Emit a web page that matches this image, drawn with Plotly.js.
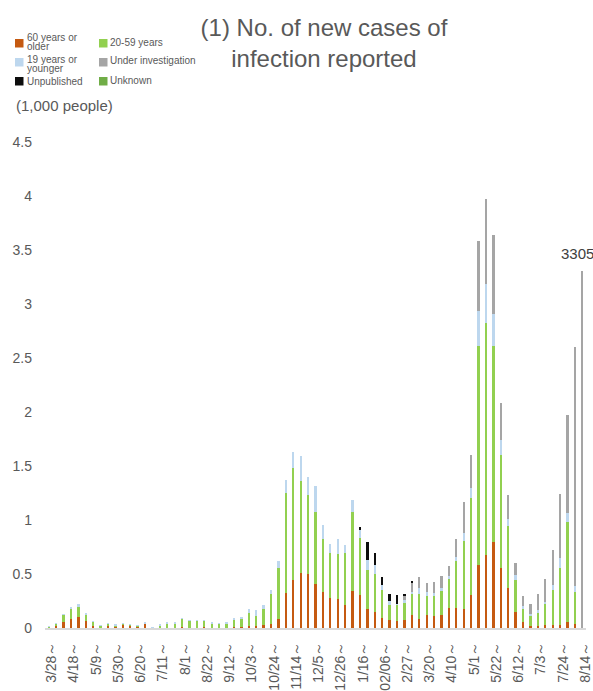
<!DOCTYPE html>
<html><head><meta charset="utf-8">
<script src="https://cdn.plot.ly/plotly-3.0.1.min.js"></script>
<style>html,body{margin:0;padding:0;background:#fff;overflow:hidden;} #chart{width:593px;height:691px;}</style>
</head><body><div id="chart"></div>
<script>
// Week starting dates (2020-03-28 .. 2021-08-14)
const weeks = ["3/28","4/4","4/11","4/18","4/25","5/2","5/9","5/16","5/23","5/30","6/6","6/13","6/20","6/27","7/4","7/11","7/18","7/25","8/1","8/8","8/15","8/22","8/29","9/5","9/12","9/19","9/26","10/3","10/10","10/17","10/24","10/31","11/7","11/14","11/21","11/28","12/5","12/12","12/19","12/26","1/2","1/9","1/16","1/23","1/30","02/06","2/13","2/20","2/27","3/6","3/13","3/20","3/27","4/3","4/10","4/17","4/24","5/1","5/8","5/15","5/22","5/29","6/5","6/12","6/19","6/26","7/3","7/10","7/17","7/24","7/31","8/7","8/14"];
const tickWeeks = ["3/28","4/18","5/9","5/30","6/20","7/11","8/1","8/22","9/12","10/3","10/24","11/14","12/5","12/26","1/16","02/06","2/27","3/20","4/10","5/1","5/22","6/12","7/3","7/24","8/14"];

// Values in 1,000 people
const age60plus = [0.002,0.015,0.056,0.082,0.101,0.068,0.022,0.006,0.014,0.013,0.028,0.025,0.016,0.038,0.001,0.002,0.002,0.003,0.006,0.004,0.003,0.006,0.003,0.003,0.004,0.012,0.009,0.015,0.015,0.028,0.037,0.086,0.325,0.445,0.508,0.502,0.408,0.333,0.278,0.267,0.214,0.343,0.302,0.177,0.146,0.094,0.071,0.064,0.073,0.120,0.086,0.117,0.111,0.120,0.182,0.183,0.176,0.302,0.580,0.673,0.796,0.559,0.372,0.148,0.056,0.015,0.015,0.025,0.025,0.025,0.056,0.040,0];
const age20to59 = [0.010,0.028,0.066,0.100,0.100,0.060,0.037,0.018,0.024,0.014,0.012,0.005,0.008,0.008,0.004,0.025,0.042,0.043,0.082,0.064,0.064,0.063,0.042,0.038,0.040,0.064,0.078,0.127,0.100,0.150,0.275,0.466,0.926,1.037,0.855,0.728,0.664,0.494,0.417,0.420,0.478,0.728,0.531,0.361,0.358,0.259,0.145,0.151,0.160,0.194,0.225,0.179,0.185,0.219,0.275,0.438,0.629,0.898,2.028,2.151,1.815,1.040,0.569,0.293,0.129,0.093,0.124,0.201,0.330,0.529,0.925,0.290,0];
const age19under = [0.003,0.003,0.005,0.006,0.018,0.010,0.003,0.002,0.003,0.002,0.003,0.001,0.001,0.002,0.003,0.002,0.003,0.003,0.004,0.002,0.002,0.002,0.002,0.003,0.008,0.020,0.018,0.034,0.050,0.034,0.038,0.070,0.123,0.145,0.228,0.164,0.241,0.123,0.086,0.136,0.080,0.111,0.077,0.096,0.080,0.046,0.034,0.010,0.025,0.022,0.059,0.037,0.028,0.028,0.022,0.040,0.075,0.100,0.327,0.358,0.300,0.139,0.071,0.047,0.015,0.025,0.025,0.012,0.046,0.090,0.084,0.060,0];
const underInvestigation = [0,0,0,0,0,0,0,0,0,0,0,0,0,0,0,0,0,0,0,0,0,0,0,0,0,0,0,0,0,0,0,0,0,0,0,0,0,0,0,0,0,0,0,0,0,0,0,0,0.037,0.083,0.102,0.086,0.099,0.117,0.096,0.162,0.287,0.300,0.645,0.794,0.725,0.349,0.218,0.114,0.093,0.092,0.148,0.219,0.324,0.596,0.905,2.210,3.305];
const unpublished = [0,0,0,0,0,0,0,0,0,0,0,0,0,0,0,0,0,0,0,0,0,0,0,0,0,0,0,0,0,0,0,0,0,0,0,0,0,0,0,0,0,0,0.028,0.164,0.114,0.071,0.062,0.080,0.022,0.018,0,0,0,0,0,0,0,0,0,0,0,0,0,0,0,0,0,0,0,0,0,0,0];
const unknown = [0,0,0,0,0,0,0,0,0,0,0,0,0,0,0,0,0,0,0,0,0,0,0,0,0,0,0,0,0,0,0,0,0,0,0,0,0,0,0,0,0,0,0,0,0,0,0,0,0,0,0,0,0,0,0,0,0,0,0,0,0,0,0,0,0,0,0,0,0,0,0,0,0];

const seriesNames = ["60 years or older","20-59 years","19 years or younger","Under investigation","Unpublished","Unknown"];
const legendLines = [["60 years or","older"],["20-59 years"],["19 years or","younger"],["Under investigation"],["Unpublished"],["Unknown"]];
const seriesColors = ["#C55A11","#92D050","#BDD7EE","#A5A5A5","#0D0D0D","#70AD47"];
const seriesValues = [age60plus, age20to59, age19under, underInvestigation, unpublished, unknown];

const W = 593, H = 691;
const M = {l:45, r:7, t:142, b:63, autoexpand:false};
const PW = W - M.l - M.r, PH = H - M.t - M.b;
const px = x => (x - M.l) / PW;
const py = y => (H - M.b - y) / PH;

const traces = seriesValues.map((vals, i) => ({
  type: 'bar', x: weeks, y: vals, name: seriesNames[i],
  marker: {color: seriesColors[i], line: {width: 0}},
  showlegend: false, hoverinfo: 'x+y+name'
}));

// manual two-column legend
const legendPos = [
  {sx:15, sy:39, tx:26, ty:[37.5,46.5]},
  {sx:99, sy:39, tx:109, ty:[42]},
  {sx:15, sy:58, tx:26, ty:[59.5,68.5]},
  {sx:99, sy:58, tx:109, ty:[60]},
  {sx:15, sy:77, tx:26, ty:[82]},
  {sx:99, sy:77, tx:109, ty:[80]}
];
const shapes = [];
const annotations = [];
legendPos.forEach((p, i) => {
  shapes.push({type:'rect', xref:'paper', yref:'paper', x0:px(p.sx), x1:px(p.sx+8.5), y0:py(p.sy+8.5), y1:py(p.sy), fillcolor:seriesColors[i], line:{width:0}});
  legendLines[i].forEach((line, j) => {
    annotations.push({xref:'paper', yref:'paper', x:px(p.tx), y:py(p.ty[j]), xanchor:'left', yanchor:'middle', showarrow:false, borderpad:0, text:line, font:{family:'Liberation Sans, Arial, sans-serif', size:10, color:'#595959'}});
  });
});
annotations.push({xref:'paper', yref:'paper', x:px(14), y:py(106), xanchor:'left', yanchor:'middle', showarrow:false, text:'(1,000 people)', font:{family:'Liberation Sans, Arial, sans-serif', size:15, color:'#595959'}});

// data label on last bar
const lastIdx = weeks.length - 1;
const lastTotal = seriesValues.reduce((s, arr) => s + arr[lastIdx], 0);
annotations.push({x: weeks[lastIdx], y: lastTotal, xref:'x', yref:'y', showarrow:false, xanchor:'center', yanchor:'bottom', xshift:-5, yshift:7, text:String(Math.round(lastTotal*1000)), font:{family:'Liberation Sans, Arial, sans-serif', size:15, color:'#404040'}});

const layout = {
  width: W, height: H,
  margin: M,
  paper_bgcolor:'#ffffff', plot_bgcolor:'#ffffff',
  barmode:'stack', bargap:0.69,
  title:{text:'(1) No. of new cases of<br>infection reported', xref:'container', yref:'container', x:324/W, xanchor:'center', y:1-36/H, yanchor:'top', font:{family:'Liberation Sans, Arial, sans-serif', size:24, color:'#595959'}},
  xaxis:{type:'category', range:[-0.5, weeks.length-0.5], automargin:false, tickmode:'array', tickvals:tickWeeks, ticktext:tickWeeks.map(t => t + '～'), tickangle:-90, showline:true, linecolor:'#D9D9D9', linewidth:2, showgrid:false, zeroline:false, ticks:'', ticklabelstandoff:6, ticklabelshift:3, tickfont:{family:'Liberation Sans, Arial, sans-serif', size:14, color:'#595959'}, fixedrange:true},
  yaxis:{range:[0,4.5], dtick:0.5, tick0:0, automargin:false, showgrid:false, zeroline:false, showline:false, ticks:'', ticklabelstandoff:12, tickfont:{family:'Liberation Sans, Arial, sans-serif', size:14, color:'#595959'}, fixedrange:true},
  shapes: shapes,
  annotations: annotations
};
Plotly.newPlot('chart', traces, layout, {displayModeBar:false, responsive:false});
</script>
</body></html>
